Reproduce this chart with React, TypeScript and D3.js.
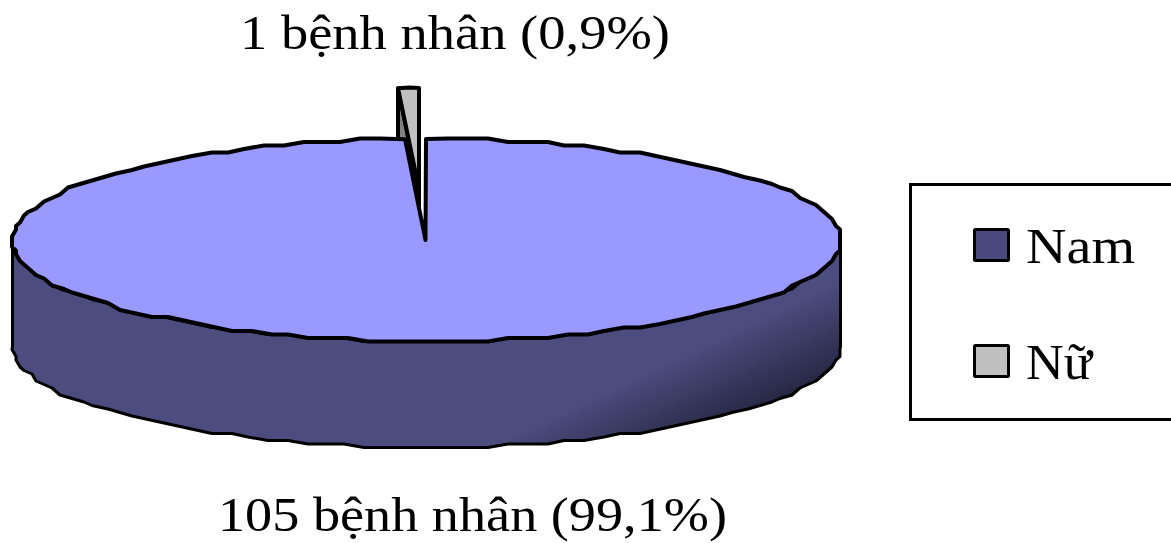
import React from "react";
import * as d3 from "d3";

const categories = ["Nam", "Nữ"];
const patients = [105, 1];
const topLabel = "1 bệnh nhân (0,9%)";
const bottomLabel = "105 bệnh nhân (99,1%)";

const W = 1171, H = 543;
const cx = 426.5, cy = 240, rx = 414, ry = 101, depth = 106;
const FONT = "'Liberation Serif', 'Times New Roman', serif";

const pie = d3.pie<number>().sort(null).startAngle(0).endAngle(2 * Math.PI);
const arcs = pie(patients);

// project a pie angle on to the tilted disc; the original's rim is stepped, so y snaps to a grid
const px = (a: number) => cx + rx * Math.sin(a);
const py = (a: number) => cy - ry * Math.cos(a);
const snap = (v: number, s: number) => Math.round(v / s) * s;
const rim = (a0: number, a1: number, dx = 0, dy = 0) => {
  const n = Math.max(1, Math.ceil(Math.abs(a1 - a0) / (Math.PI / 64)));
  const scale = d3.scaleLinear().domain([0, n]).range([a0, a1]);
  return d3.range(n + 1).map((i) => {
    const a = scale(i);
    const edge = i === 0 || i === n;
    const x = edge ? px(a) : snap(px(a), 4);
    const y = edge ? py(a) : cy + snap(py(a) - cy, 3.5);
    return [x + dx, y + dy] as [number, number];
  });
};
const line = d3.line<[number, number]>();

const nam = arcs[0], nu = arcs[1];
const apexX = 425.5;
const namStart = nam.startAngle - 0.0012;
const namEnd = nam.endAngle;
const namRim = rim(namStart, namEnd);
namRim[namRim.length - 1] = [405, namRim[namRim.length - 1][1]];
const namTop = line([[apexX, cy], ...namRim]) + "Z";

const front = rim(Math.PI / 2, (3 * Math.PI) / 2);
const wall = line([...front, ...[...front].reverse().map(([x, y]) => [x, y + depth] as [number, number])]) + "Z";

// exploded slice
const ex = -6.5, ey = -51;
const nuRim = rim(nu.startAngle, nu.endAngle, ex, ey).map(([x, y], i, all) =>
  [i === 0 ? 398 : i === all.length - 1 ? 419 : x, y] as [number, number]);
const nuTop = line([[apexX + ex, cy + ey], ...nuRim]) + "Z";
const nuLeft = nuRim[0];
const nuWall = line([
  [apexX + ex, cy + ey],
  nuLeft,
  [nuLeft[0], nuLeft[1] + depth],
  [apexX + ex, cy + ey + depth],
]) + "Z";

const legendColors = ["#4A4A7E", "#C0C0C0"];
const legendWidths = [109, 66];
const legendY = d3.scalePoint<string>().domain(categories).range([245, 361]);

export default function App() {
  return (
    <svg width={W} height={H} viewBox={`0 0 ${W} ${H}`} style={{ position: "absolute", left: 0, top: 0, display: "block", background: "#fff" }}>
      <defs>
        <linearGradient id="side" gradientUnits="userSpaceOnUse" x1="705" y1="345" x2="750" y2="440">
          <stop offset="0" stopColor="#4C4C7E" />
          <stop offset="1" stopColor="#1C1C33" />
        </linearGradient>
      </defs>
      <text x={240} y={48.5} fontFamily={FONT} fontSize={49} fill="#000" textLength={430} lengthAdjust="spacingAndGlyphs">{topLabel}</text>
      <path d={nuWall} fill="#808080" stroke="#000" strokeWidth={4} strokeLinejoin="round" />
      <path d={nuTop} fill="#C0C0C0" stroke="#000" strokeWidth={4} strokeLinejoin="round" />
      <path d={wall} fill="url(#side)" stroke="#000" strokeWidth={3} strokeLinejoin="round" />
      <path d={namTop} fill="#9999FF" stroke="#000" strokeWidth={4} strokeLinejoin="round" />
      <rect x={910.5} y={184.5} width={300} height={235} fill="#fff" stroke="#000" strokeWidth={3} />
      {categories.map((c, i) => (
        <g key={c}>
          <rect x={974.5} y={legendY(c)! - 15.5} width={34} height={31} fill={legendColors[i]} stroke="#000" strokeWidth={3} rx={1} />
          <text x={1026} y={legendY(c)! + 18} fontFamily={FONT} fontSize={50} fill="#000" textLength={legendWidths[i]} lengthAdjust="spacingAndGlyphs">{c}</text>
        </g>
      ))}
      <text x={218} y={530.5} fontFamily={FONT} fontSize={49} fill="#000" textLength={509} lengthAdjust="spacingAndGlyphs">{bottomLabel}</text>
    </svg>
  );
}
